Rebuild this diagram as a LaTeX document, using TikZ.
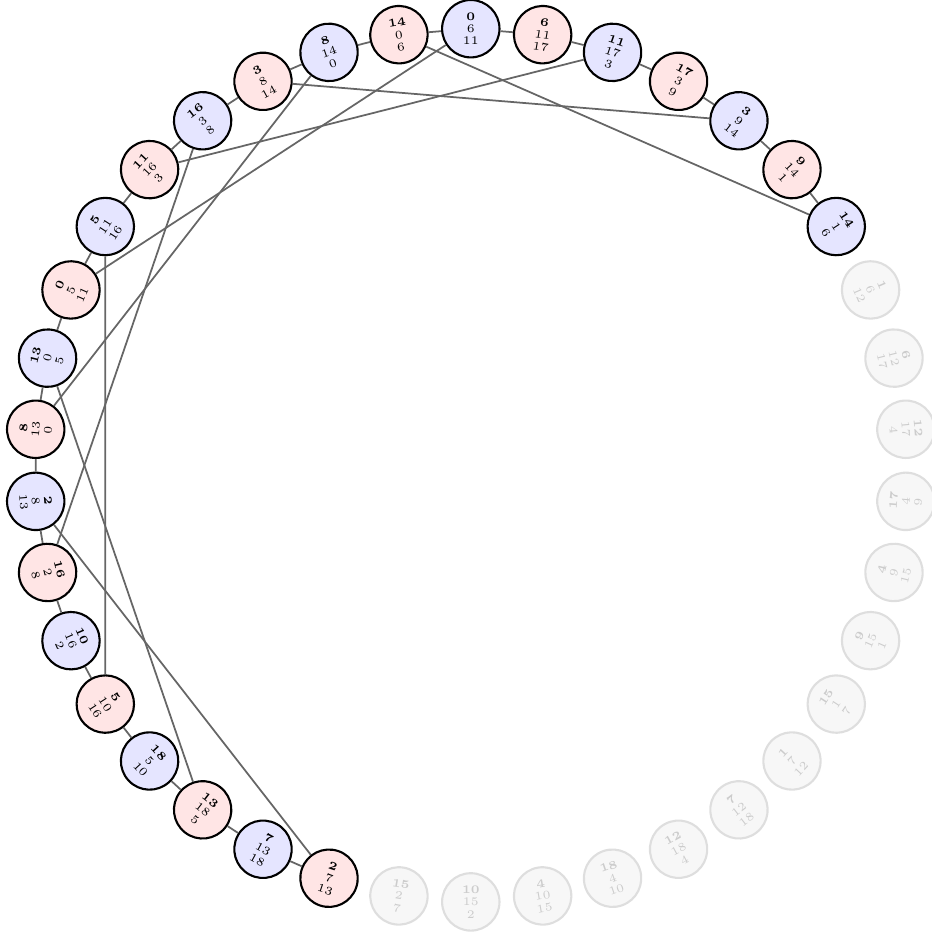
\documentclass[tikz,border=0pt]{standalone}
\begin{document}
\begin{tikzpicture}[
		cell/.style={circle,draw=black,semithick,minimum size=5.74mm,inner sep=0pt,align=center,font=\fontsize{3.3}{3.5}\selectfont},
		bcell/.style={cell,fill=blue!10},
		rcell/.style={cell,fill=red!10},
		gcell/.style={cell,draw=black!13,fill=black!3,text=black!20},
		link/.style={black!60,line width=0.5pt}]
		\useasboundingbox (-4.708,-4.687) rectangle (4.602,4.653);
		%upper right
		\node[bcell,rotate={-0*360/38}] (n0) at ({90-0*360/38}:4.366) {\textbf{0}\\6\\11};
		\node[rcell,rotate={-1*360/38}] (n1) at ({90-1*360/38}:4.366) {\textbf{6}\\11\\17};
		\node[bcell,rotate={-2*360/38}] (n2) at ({90-2*360/38}:4.366) {\textbf{11}\\17\\3};
		\node[rcell,rotate={-3*360/38}] (n3) at ({90-3*360/38}:4.366) {\textbf{17}\\3\\9};
		\node[bcell,rotate={-4*360/38}] (n4) at ({90-4*360/38}:4.366) {\textbf{3}\\9\\14};
		\node[rcell,rotate={-5*360/38}] (n5) at ({90-5*360/38}:4.366) {\textbf{9}\\14\\1};
		\node[bcell,rotate={-6*360/38}] (n6) at ({90-6*360/38}:4.366) {\textbf{14}\\1\\6};
		%unused
		\node[gcell,rotate={-7*360/38}] (n7) at ({90-7*360/38}:4.366) {\textbf{1}\\6\\12};
		\node[gcell,rotate={-8*360/38}] (n8) at ({90-8*360/38}:4.366) {\textbf{6}\\12\\17};
		\node[gcell,rotate={-9*360/38}] (n9) at ({90-9*360/38}:4.366) {\textbf{12}\\17\\4};
		\node[gcell,rotate={180-10*360/38}] (n10) at ({90-10*360/38}:4.366) {\textbf{17}\\4\\9};
		\node[gcell,rotate={180-11*360/38}] (n11) at ({90-11*360/38}:4.366) {\textbf{4}\\9\\15};
		\node[gcell,rotate={180-12*360/38}] (n12) at ({90-12*360/38}:4.366) {\textbf{9}\\15\\1};
		\node[gcell,rotate={180-13*360/38}] (n13) at ({90-13*360/38}:4.366) {\textbf{15}\\1\\7};
		\node[gcell,rotate={180-14*360/38}] (n14) at ({90-14*360/38}:4.366) {\textbf{1}\\7\\12};
		\node[gcell,rotate={180-15*360/38}] (n15) at ({90-15*360/38}:4.366) {\textbf{7}\\12\\18};
		\node[gcell,rotate={180-16*360/38}] (n16) at ({90-16*360/38}:4.366) {\textbf{12}\\18\\4};
		\node[gcell,rotate={180-17*360/38}] (n17) at ({90-17*360/38}:4.366) {\textbf{18}\\4\\10};
		\node[gcell,rotate={180-18*360/38}] (n18) at ({90-18*360/38}:4.366) {\textbf{4}\\10\\15};
		\node[gcell,rotate={180-19*360/38}] (n19) at ({90-19*360/38}:4.366) {\textbf{10}\\15\\2};
		\node[gcell,rotate={180-20*360/38}] (n20) at ({90-20*360/38}:4.366) {\textbf{15}\\2\\7};
		%left
		\node[rcell,rotate={180-21*360/38}] (n21) at ({90-21*360/38}:4.366) {\textbf{2}\\7\\13};
		\node[bcell,rotate={180-22*360/38}] (n22) at ({90-22*360/38}:4.366) {\textbf{7}\\13\\18};
		\node[rcell,rotate={180-23*360/38}] (n23) at ({90-23*360/38}:4.366) {\textbf{13}\\18\\5};
		\node[bcell,rotate={180-24*360/38}] (n24) at ({90-24*360/38}:4.366) {\textbf{18}\\5\\10};
		\node[rcell,rotate={180-25*360/38}] (n25) at ({90-25*360/38}:4.366) {\textbf{5}\\10\\16};
		\node[bcell,rotate={180-26*360/38}] (n26) at ({90-26*360/38}:4.366) {\textbf{10}\\16\\2};
		\node[rcell,rotate={180-27*360/38}] (n27) at ({90-27*360/38}:4.366) {\textbf{16}\\2\\8};
		\node[bcell,rotate={180-28*360/38}] (n28) at ({90-28*360/38}:4.366) {\textbf{2}\\8\\13};
		\node[rcell,rotate={-29*360/38}] (n29) at ({90-29*360/38}:4.366) {\textbf{8}\\13\\0};
		\node[bcell,rotate={-30*360/38}] (n30) at ({90-30*360/38}:4.366) {\textbf{13}\\0\\5};
		\node[rcell,rotate={-31*360/38}] (n31) at ({90-31*360/38}:4.366) {\textbf{0}\\5\\11};
		\node[bcell,rotate={-32*360/38}] (n32) at ({90-32*360/38}:4.366) {\textbf{5}\\11\\16};
		\node[rcell,rotate={-33*360/38}] (n33) at ({90-33*360/38}:4.366) {\textbf{11}\\16\\3};
		\node[bcell,rotate={-34*360/38}] (n34) at ({90-34*360/38}:4.366) {\textbf{16}\\3\\8};
		\node[rcell,rotate={-35*360/38}] (n35) at ({90-35*360/38}:4.366) {\textbf{3}\\8\\14};
		\node[bcell,rotate={-36*360/38}] (n36) at ({90-36*360/38}:4.366) {\textbf{8}\\14\\0};
		\node[rcell,rotate={-37*360/38}] (n37) at ({90-37*360/38}:4.366) {\textbf{14}\\0\\6};
		%ring
		\draw[link] (n0) -- (n1) -- (n2) -- (n3) -- (n4) -- (n5) -- (n6);
		\draw[link] (n21) -- (n22) -- (n23) -- (n24) -- (n25) -- (n26) -- (n27) -- (n28) -- (n29);
		\draw[link] (n29) -- (n30) -- (n31) -- (n32) -- (n33) -- (n34) -- (n35) -- (n36) -- (n37) -- (n0);
		%chords
		\draw[link] (n37) -- (n6);
		\draw[link] (n0) -- (n31);
		\draw[link] (n2) -- (n33);
		\draw[link] (n4) -- (n35);
		\draw[link] (n36) -- (n29);
		\draw[link] (n34) -- (n27);
		\draw[link] (n32) -- (n25);
		\draw[link] (n30) -- (n23);
		\draw[link] (n28) -- (n21);
	\end{tikzpicture}
\end{document}
